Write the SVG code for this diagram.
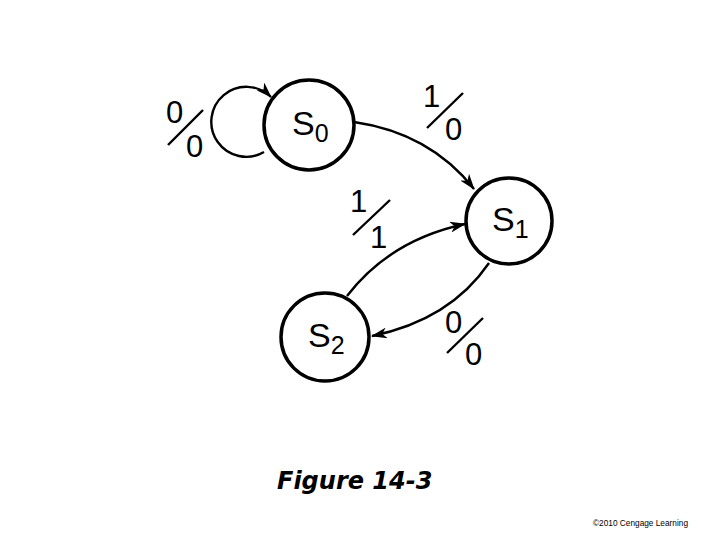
<svg xmlns="http://www.w3.org/2000/svg" width="720" height="540" viewBox="0 0 720 540">
<defs>
<marker id="arr" viewBox="0 0 16 11" refX="15" refY="5.5" markerWidth="16" markerHeight="11" markerUnits="userSpaceOnUse" orient="auto">
<path d="M0,0 L16,5.5 L0,11 L4.5,5.5 Z" fill="#000"/>
</marker>
<style>
.st{fill:#fff;stroke:#000;stroke-width:3.5}
.lb{font-family:"Liberation Sans",Arial,sans-serif;font-size:34px;fill:#000}
.sub{font-size:25px}
.lab{font-family:"Liberation Sans",Arial,sans-serif;font-size:31px;fill:#000}
.sl{stroke:#000;stroke-width:2.4}
.ed{fill:none;stroke:#000;stroke-width:2.4}
</style>
</defs>
<rect width="720" height="540" fill="#fff"/>
<g id="connectors">
<path class="ed" d="M264,152 A35,35 0 1 1 271,97" marker-end="url(#arr)"/>
<path class="ed" d="M354,122 Q430,133 474,189" marker-end="url(#arr)"/>
<path class="ed" d="M347,296 Q390,240 465,224" marker-end="url(#arr)"/>
<path class="ed" d="M489,263 Q450,320 372,336" marker-end="url(#arr)"/>
</g>
<g id="S0">
<circle class="st" cx="309" cy="125" r="45"/>
<text class="lb" x="292" y="135">S<tspan class="sub" dy="7">0</tspan></text>
</g>
<g id="S1">
<circle class="st" cx="509" cy="221" r="43"/>
<text class="lb" x="492" y="231">S<tspan class="sub" dy="7">1</tspan></text>
</g>
<g id="S2">
<circle class="st" cx="325" cy="337" r="44"/>
<text class="lb" x="308" y="347">S<tspan class="sub" dy="7">2</tspan></text>
</g>
<g id="labels">
<text class="lab" x="166" y="123">0</text>
<text class="lab" x="186" y="157">0</text>
<line class="sl" x1="168" y1="145" x2="203" y2="110"/>
<text class="lab" x="423" y="107">1</text>
<text class="lab" x="445" y="140">0</text>
<line class="sl" x1="427" y1="128" x2="463" y2="93"/>
<text class="lab" x="350" y="212">1</text>
<text class="lab" x="370" y="248">1</text>
<line class="sl" x1="353" y1="235" x2="390" y2="200"/>
<text class="lab" x="445" y="333">0</text>
<text class="lab" x="465" y="365">0</text>
<line class="sl" x1="447" y1="353" x2="483" y2="318"/>
</g>
<text x="277" y="489" font-family="'DejaVu Sans',Verdana,sans-serif" font-size="24" font-weight="bold" font-style="italic" fill="#000">Figure 14-3</text>
<text x="593" y="526" font-family="'Liberation Sans',Arial,sans-serif" font-size="8.5" textLength="95" lengthAdjust="spacingAndGlyphs" fill="#000">©2010 Cengage Learning</text>
</svg>
